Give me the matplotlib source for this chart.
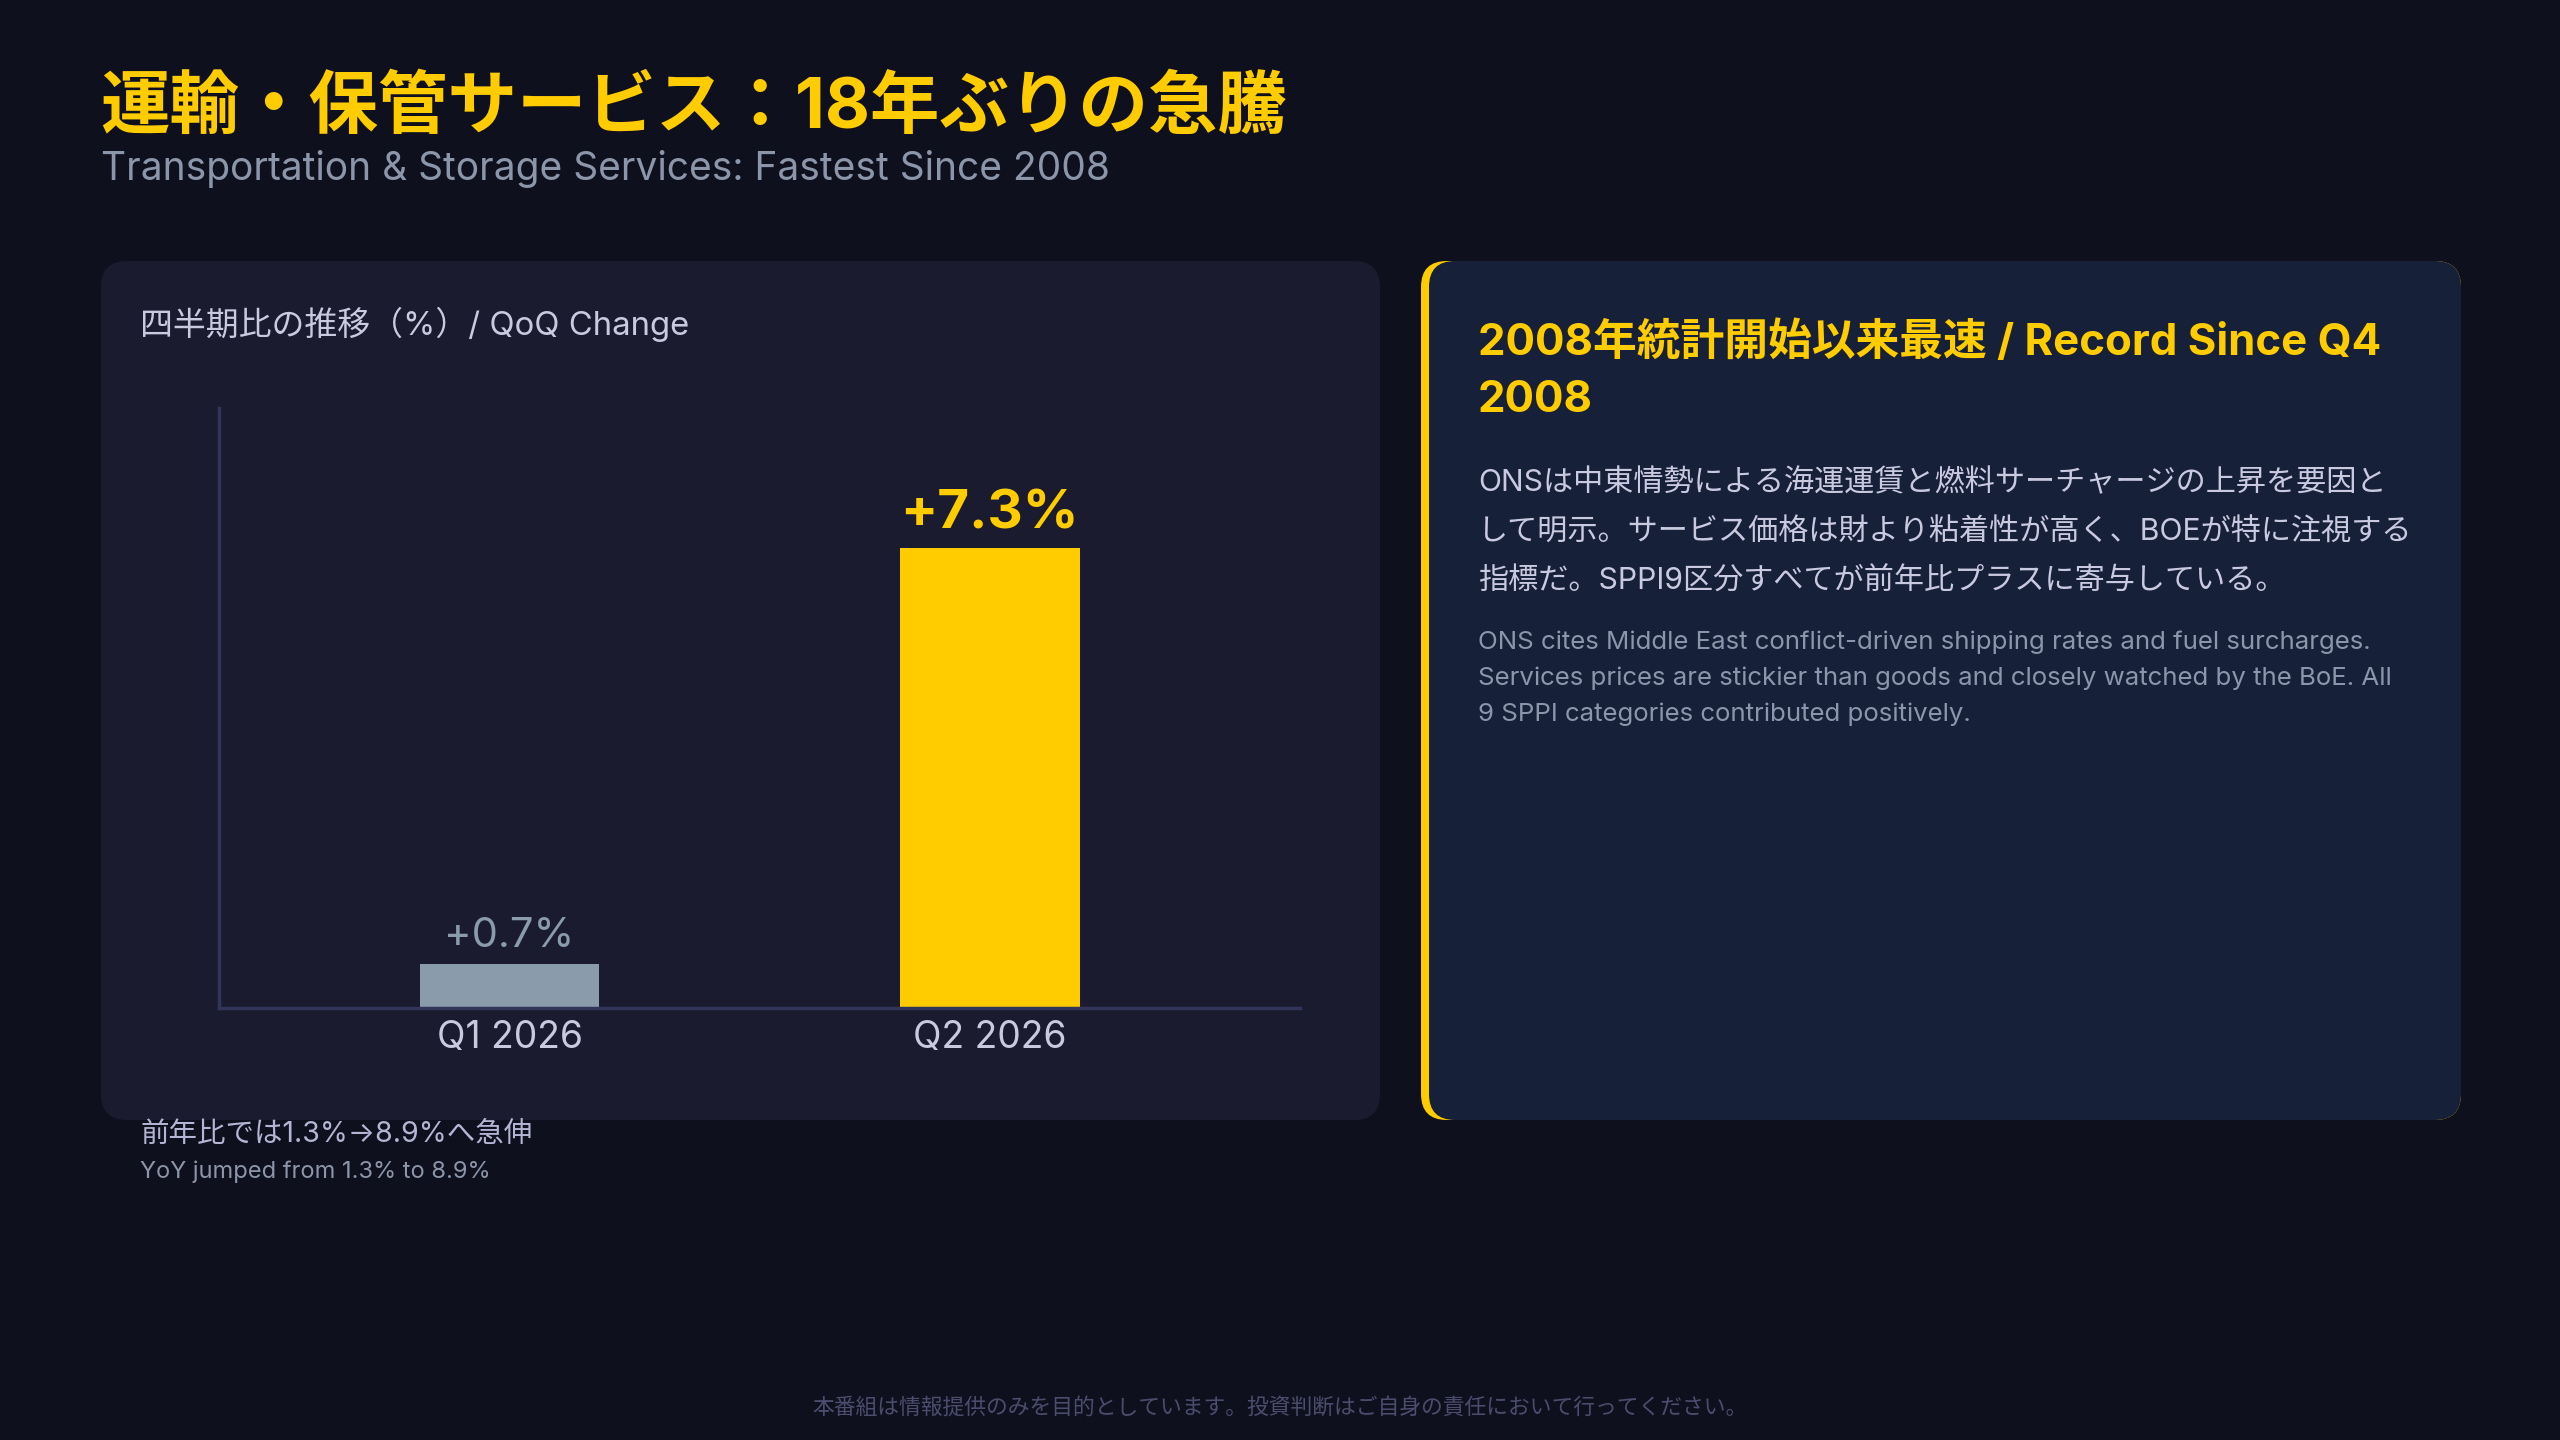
#!/usr/bin/env python3

import matplotlib
matplotlib.use('Agg')
import matplotlib.pyplot as plt
from matplotlib.patches import FancyBboxPatch

# data
quarters = ['Q1 2026', 'Q2 2026']
qoq = [0.7, 7.3]
bar_labels = ['+0.7%', '+7.3%']

title_jp = '運輸・保管サービス：18年ぶりの急騰'
title_en = 'Transportation & Storage Services: Fastest Since 2008'
chart_title = '四半期比の推移（%）/ QoQ Change'
note_jp = '前年比では1.3%→8.9%へ急伸'
note_en = 'YoY jumped from 1.3% to 8.9%'
card_head = ['2008年統計開始以来最速 / Record Since Q4', '2008']
card_jp = ['ONSは中東情勢による海運運賃と燃料サーチャージの上昇を要因と',
           'して明示。サービス価格は財より粘着性が高く、BOEが特に注視する',
           '指標だ。SPPI9区分すべてが前年比プラスに寄与している。']
card_en = ['ONS cites Middle East conflict-driven shipping rates and fuel surcharges.',
           'Services prices are stickier than goods and closely watched by the BoE. All',
           '9 SPPI categories contributed positively.']
footer = '本番組は情報提供のみを目的としています。投資判断はご自身の責任において行ってください。'

BG = '#0f101d'
PANEL = '#1a1b2e'
CARD = '#172039'
YELLOW = '#ffcc00'
GREY = '#8a9bab'
LAV = '#c9c9e0'

plt.rcParams['font.family'] = ['Inter', 'Noto Sans CJK JP', 'DejaVu Sans']

W, H = 2560, 1440
fig = plt.figure(figsize=(W / 100, H / 100), dpi=100, facecolor=BG)

# background layer in pixel coordinates (y down)
bg = fig.add_axes([0, 0, 1, 1])
bg.set_xlim(0, W)
bg.set_ylim(H, 0)
bg.axis('off')

def rbox(x0, y0, x1, y1, color, r=26):
    p = FancyBboxPatch((x0 + r, y0 + r), (x1 - x0) - 2 * r, (y1 - y0) - 2 * r,
                       boxstyle='round,pad=%d' % r, linewidth=0, facecolor=color)
    bg.add_patch(p)

rbox(101, 261, 1380, 1120, PANEL)
rbox(1421, 261, 2461, 1120, YELLOW)
rbox(1429, 261, 2461, 1120, CARD)

bg.text(100, 109, title_jp, color=YELLOW, fontsize=50, fontweight='bold', va='center')
bg.text(101, 169, title_en, color='#8c96aa', fontsize=28, va='center')
bg.text(140, 324, chart_title, color=LAV, fontsize=23.7, va='center')
bg.text(140, 1134, note_jp, color='#b4b4d4', fontsize=20.5, va='center')
bg.text(140, 1172, note_en, color='#8c96aa', fontsize=17, va='center')

bg.text(1478, 343, card_head[0], color=YELLOW, fontsize=31.5, fontweight='bold', va='center')
bg.text(1478, 401, card_head[1], color=YELLOW, fontsize=31.5, fontweight='bold', va='center')
for i, line in enumerate(card_jp):
    bg.text(1478, 483 + i * 49.5, line, color=LAV, fontsize=21.7, va='center')
for i, line in enumerate(card_en):
    bg.text(1478, 642 + i * 36, line, color='#8c96aa', fontsize=18.6, va='center')

bg.text(W / 2, 1407, footer, color='#4c4c6e', fontsize=15.7, ha='center', va='center')

# bar chart
ax = fig.add_axes([219 / W, (H - 1008) / H, (1300 - 219) / W, 600 / H])
ax.set_facecolor('none')
x = range(len(quarters))
colors = [GREY, YELLOW]
ax.bar(x, qoq, width=0.374, color=colors, zorder=2)
ax.set_xlim(-0.605, 1.646)
ax.set_ylim(0, 9.53)
ax.set_xticks(list(x))
ax.set_xticklabels(quarters, color=LAV, fontsize=26.8)
ax.tick_params(axis='x', length=0, pad=9)
ax.set_yticks([])
for s in ['top', 'right']:
    ax.spines[s].set_visible(False)
for s in ['left', 'bottom']:
    ax.spines[s].set_color('#33345a')
    ax.spines[s].set_linewidth(2.5)

ax.annotate(bar_labels[0], (0, qoq[0]), xytext=(0, 12), textcoords='offset points',
            ha='center', va='baseline', color=GREY, fontsize=30)
ax.annotate(bar_labels[1], (1, qoq[1]), xytext=(0, 14), textcoords='offset points',
            ha='center', va='baseline', color=YELLOW, fontsize=39.5, fontweight='bold')

fig.savefig('out.png', dpi=100, facecolor=BG)
